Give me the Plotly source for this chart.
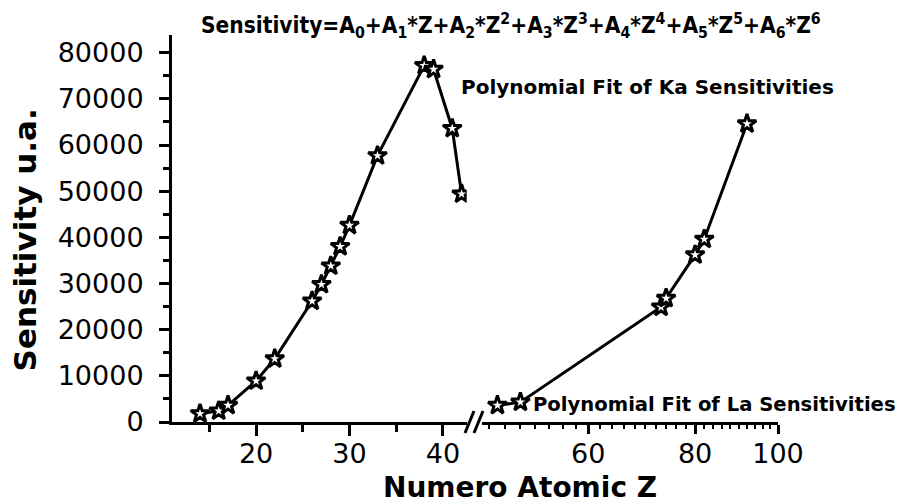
import math
import plotly.graph_objects as go

# ---- data ----
ka_z = [14, 16, 17, 20, 22, 26, 27, 28, 29, 30, 33, 38, 39, 41, 42]
ka_s = [1800, 2400, 3600, 8900, 13700, 26200, 29800, 33800, 38000, 42600,
        57700, 77200, 76400, 63600, 49400]
la_z = [47, 50, 73, 74, 80, 82, 92]
la_s = [3600, 4300, 24900, 26800, 36200, 39600, 64600]

left_ticks = [20, 30, 40]
right_ticks = [60, 80, 100]
right_minor = list(range(46, 100, 2))
y_ticks = [0, 10000, 20000, 30000, 40000, 50000, 60000, 70000, 80000]

OFF = 8  # page body margin in the browser
W, H = 904 - OFF, 504 - OFF
# plot area in screen pixels
X0, X1, Y0, Y1 = 171.7, 778.3, 35, 422
ML, MR, MT, MB = X0 - OFF, W - (X1 - OFF), Y0 - OFF, H - (Y1 - OFF)
PW = X1 - X0
PH = Y1 - Y0

def px(x):
    return (x - X0) / PW

def py(y):
    return (Y1 - y) / PH

FONT = "DejaVu Sans"
star = dict(symbol="star", size=14, color="white", line=dict(color="black", width=3))

fig = go.Figure()
fig.add_trace(go.Scatter(x=ka_z, y=ka_s, mode="lines+markers", xaxis="x", yaxis="y",
                         line=dict(color="black", width=3), marker=star, showlegend=False))
fig.add_trace(go.Scatter(x=la_z, y=la_s, mode="lines+markers", xaxis="x2", yaxis="y",
                         line=dict(color="black", width=3), marker=star, showlegend=False))

tickfont = dict(family=FONT, size=27, color="black")
fig.update_layout(
    width=W, height=H,
    margin=dict(l=ML, r=MR, t=MT, b=MB, autoexpand=False),
    paper_bgcolor="white", plot_bgcolor="white",
    xaxis=dict(domain=[0, px(466.7)], range=[11, 42.55], showline=True, linewidth=3,
               linecolor="black", showgrid=False, zeroline=False, automargin=False,
               tickmode="array", tickvals=left_ticks,
               ticktext=[str(v) for v in left_ticks], ticks="outside", ticklen=11,
               tickwidth=3, tickcolor="black", tickfont=tickfont, ticklabelstandoff=-5,
               minor=dict(dtick=5, tick0=0, ticks="outside", ticklen=7, tickwidth=3,
                          tickcolor="black", showgrid=False),
               anchor="y"),
    xaxis2=dict(domain=[px(482), 1], type="log", range=[math.log10(45.09), 2],
                showline=True, linewidth=3, linecolor="black", showgrid=False,
                zeroline=False, automargin=False, tickmode="array", tickvals=right_ticks,
                ticktext=[str(v) for v in right_ticks], ticks="outside", ticklen=9,
                tickwidth=3, tickcolor="black", tickfont=tickfont, ticklabelstandoff=-3,
                minor=dict(tickmode="array", tickvals=right_minor, ticks="outside",
                           ticklen=4, tickwidth=2, tickcolor="black", showgrid=False),
                anchor="y"),
    yaxis=dict(range=[0, 83840], showline=True, linewidth=3, linecolor="black",
               showgrid=False, zeroline=False, automargin=False, tickmode="array",
               tickvals=y_ticks, ticktext=[str(v) for v in y_ticks],
               ticks="outside", ticklen=10, tickwidth=3, tickcolor="black",
               tickfont=tickfont, ticklabelstandoff=10,
               minor=dict(dtick=5000, tick0=0, ticks="outside", ticklen=6, tickwidth=3,
                          tickcolor="black", showgrid=False),
               anchor="x"),
)

# axis break marks
for x0 in (465, 474):
    fig.add_shape(type="line", xref="paper", yref="paper",
                  x0=px(x0), y0=py(433), x1=px(x0 + 9), y1=py(411),
                  line=dict(color="black", width=3))

ann = []
ann.append(dict(text="Numero Atomic Z", x=px(520), y=py(487), xref="paper", yref="paper",
                showarrow=False, font=dict(family=FONT, size=28, color="black", weight="bold"),
                xanchor="center", yanchor="middle"))
ann.append(dict(text="Sensitivity u.a.", x=px(25), y=py(240), xref="paper", yref="paper",
                showarrow=False, textangle=-90,
                font=dict(family=FONT, size=31, color="black", weight="bold"),
                xanchor="center", yanchor="middle"))
formula = ("Sensitivity=A<sub>0</sub>+A<sub>1</sub>*Z+A<sub>2</sub>*Z<sup>2</sup>"
           "+A<sub>3</sub>*Z<sup>3</sup>+A<sub>4</sub>*Z<sup>4</sup>+A<sub>5</sub>*Z<sup>5</sup>"
           "+A<sub>6</sub>*Z<sup>6</sup>")
ann.append(dict(text=formula, x=px(199), y=py(25), xref="paper", yref="paper",
                showarrow=False, font=dict(family="DejaVu Sans Condensed", size=22.5,
                                           color="black", weight="bold"),
                xanchor="left", yanchor="middle"))
ann.append(dict(text="Polynomial Fit of Ka Sensitivities", x=px(459), y=py(87),
                xref="paper", yref="paper", showarrow=False,
                font=dict(family=FONT, size=20, color="black", weight="bold"),
                xanchor="left", yanchor="middle"))
ann.append(dict(text="Polynomial Fit of La Sensitivities", x=px(531), y=py(404),
                xref="paper", yref="paper", showarrow=False,
                font=dict(family=FONT, size=19.6, color="black", weight="bold"),
                xanchor="left", yanchor="middle"))
fig.update_layout(annotations=ann)

fig.write_html("out.html")
